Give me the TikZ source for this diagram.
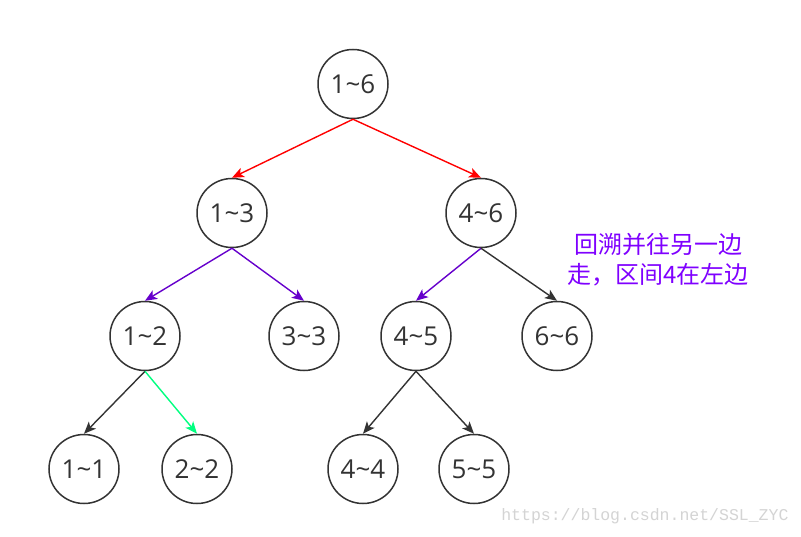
\documentclass[tikz,border=0pt]{standalone}
\usepackage{fontspec}
\setmainfont{Open Sans}
\newfontfamily\cjk{Noto Sans CJK SC}
\newfontfamily\wmfont{Liberation Mono}
\usetikzlibrary{shapes.geometric,arrows.meta}
\definecolor{ink}{HTML}{333333}
\definecolor{redline}{HTML}{FF0000}
\definecolor{purpleline}{HTML}{6600CC}
\definecolor{greenline}{HTML}{00FF80}
\definecolor{notecol}{HTML}{7F00FF}
\definecolor{wmcol}{HTML}{D4D4D4}
\begin{document}
\begin{tikzpicture}[x=1pt,y=-1pt,
  tnode/.style={ellipse,draw=ink,line width=1.5pt,minimum width=70pt,minimum height=69pt,inner sep=0pt,text=ink,font=\fontsize{26}{30}\selectfont},
  conn/.style={line width=1.4pt,-{Stealth[length=12pt,width=10pt,inset=3pt]}},
]
\useasboundingbox[fill=white] (0,0) rectangle (801,537);
\node[tnode] (n16) at (353,84) {1\char`~6};
\node[tnode] (n13) at (232,213) {1\char`~3};
\node[tnode] (n46) at (481,213) {4\char`~6};
\node[tnode] (n12) at (145,336) {1\char`~2};
\node[tnode] (n33) at (304,336) {3\char`~3};
\node[tnode] (n45) at (416,336) {4\char`~5};
\node[tnode] (n66) at (557,336) {6\char`~6};
\node[tnode] (n11) at (84,469) {1\char`~1};
\node[tnode] (n22) at (197,469) {2\char`~2};
\node[tnode] (n44) at (363,469) {4\char`~4};
\node[tnode] (n55) at (474,469) {5\char`~5};

\draw[conn,redline] (n16.south) -- (n13.north);
\draw[conn,redline] (n16.south) -- (n46.north);
\draw[conn,purpleline] (n13.south) -- (n12.north);
\draw[conn,purpleline] (n13.south) -- (n33.north);
\draw[conn,purpleline] (n46.south) -- (n45.north);
\draw[conn,ink] (n46.south) -- (n66.north);
\draw[conn,ink] (n12.south) -- (n11.north);
\draw[conn,greenline] (n12.south) -- (n22.north);
\draw[conn,ink] (n45.south) -- (n44.north);
\draw[conn,ink] (n45.south) -- (n55.north);

\node[align=center,text=notecol,font=\cjk\fontsize{24}{30}\selectfont] (note) at (658,260) {回溯并往另一边\\走，区间4在左边};
\node[text=wmcol,font=\wmfont\fontsize{16.5}{18}\selectfont,anchor=east] (wm) at (792,516) {https://blog.csdn.net/SSL\_ZYC};
\end{tikzpicture}
\end{document}
